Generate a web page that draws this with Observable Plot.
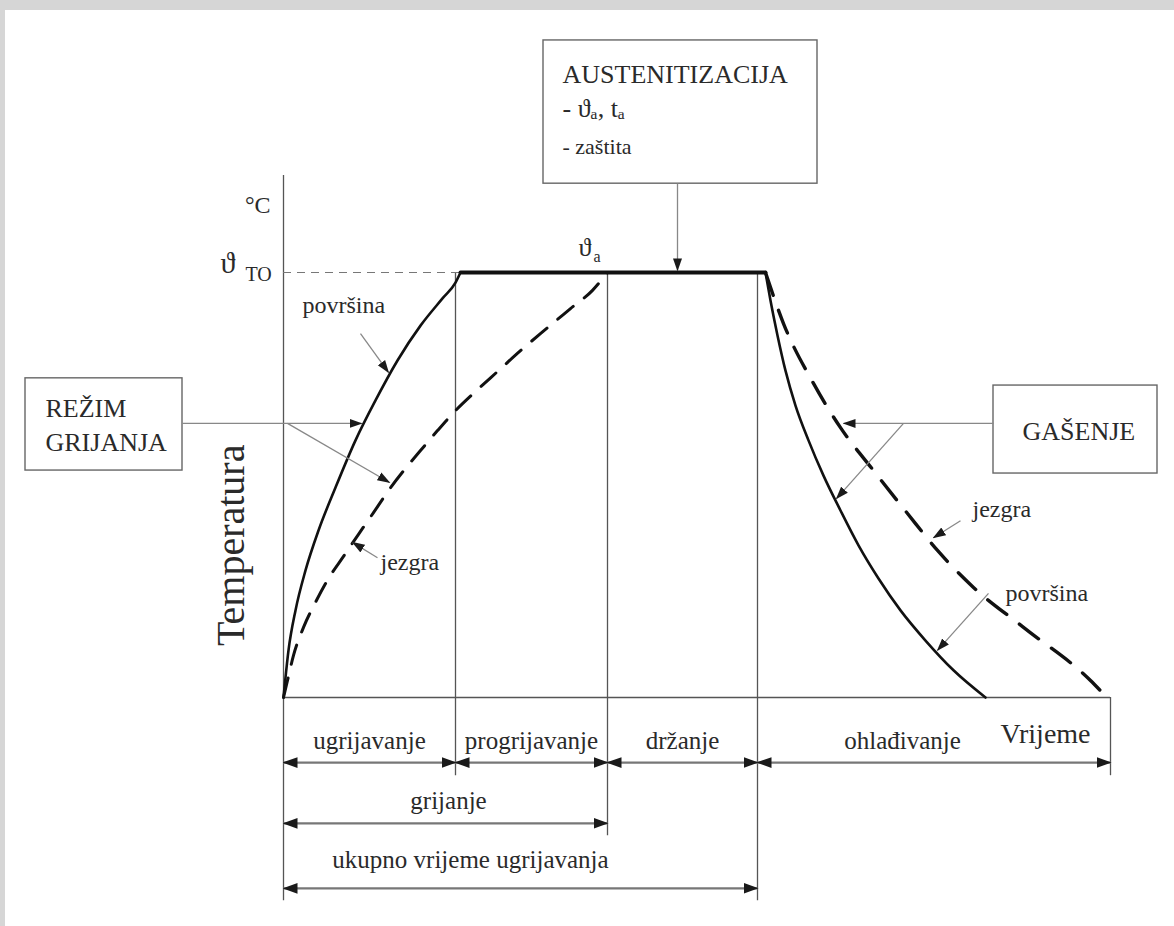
<!DOCTYPE html>
<html><head><meta charset="utf-8">
<script src="https://cdn.jsdelivr.net/npm/d3@7"></script>
<script src="https://cdn.jsdelivr.net/npm/@observablehq/plot@0.6"></script>
<style>
html,body{margin:0;padding:0;background:#fff;}
#wrap{position:relative;width:1174px;height:926px;overflow:hidden;background:#fff;}
#chart{position:absolute;left:0;top:0;}
#edgeTop{position:absolute;left:0;top:0;width:1174px;height:10px;background:#d6d6d6;}
#edgeLeft{position:absolute;left:0;top:0;width:5px;height:926px;background:#d6d6d6;}
</style></head>
<body><div id="wrap"><div id="chart"></div><div id="edgeTop"></div><div id="edgeLeft"></div></div>
<script>
// ---- data (time t in arbitrary units, temperature T in % of ϑTO) ----
const surfaceHeatTime = [0, 0.5, 1.2, 2.2, 3.5, 5.2, 7.2, 9.2, 11.4, 13.7, 15.9, 17.2, 17.7];
const surfaceHeatTemp = [0, 11.1, 20.5, 29.9, 39.3, 49.4, 60.5, 69.9, 79.3, 87.5, 93.9, 97.6, 100];
const plateauTime = [17.7, 48.2];
const plateauTemp = [100, 100];
const surfaceCoolTime = [48.2, 48.7, 49.4, 50.2, 51.2, 52.5, 54.0, 55.7, 57.5, 59.5, 61.7, 64.2, 67.0, 70.2];
const surfaceCoolTemp = [100, 93.4, 85.2, 76.9, 68.7, 60.5, 52.2, 44.0, 35.8, 28.0, 20.5, 13.4, 6.4, 0];
const coreHeatTime = [0, 0.4, 1.0, 2.0, 3.2, 4.5, 6.0, 7.5, 9.0, 10.5, 12.2, 13.7, 15.4, 17.2, 19.2, 21.4, 23.7, 26.2, 28.7, 30.9, 32.4];
const coreHeatTemp = [0, 4.0, 9.9, 16.5, 22.4, 28.0, 33.2, 38.4, 43.5, 48.7, 53.9, 58.1, 62.8, 67.5, 72.0, 76.7, 81.6, 86.6, 91.5, 95.8, 100];
const coreCoolTime = [48.2, 50.0, 53.0, 55.7, 59.0, 62.4, 65.4, 69.0, 74.0, 80.7, 81.7];
const coreCoolTemp = [100, 88.0, 73.9, 63.5, 53.4, 43.3, 34.6, 25.9, 16.5, 4.0, 1.6];

const phaseNames = ["ugrijavanje", "progrijavanje", "držanje", "ohlađivanje"];
const phaseStart = [0, 17.2, 32.4, 47.4];
const phaseEnd = [17.2, 32.4, 47.4, 82.7];
const phaseLabelTime = [8.6, 24.8, 39.9, 61.9];
const spanNames = ["grijanje", "ukupno vrijeme ugrijavanja"];
const spanStart = [0, 0];
const spanEnd = [32.4, 47.4];
const spanLabelTime = [16.5, 18.7];
const spanLabelTemp = [-26.3, -40.0];

const guideTime = [0, 17.2, 32.4, 47.4, 82.7];
const guideTop = [122.8, 100, 100, 100, 0];
const guideBottom = [-47.8, -18.4, -32.5, -47.8, -18.4];

const boxNames = ["AUSTENITIZACIJA", "REŽIM GRIJANJA", "GAŠENJE"];
const boxTime1 = [26.0, -25.8, 71.0];
const boxTime2 = [53.4, -10.1, 87.4];
const boxTemp1 = [120.9, 53.4, 52.7];
const boxTemp2 = [154.6, 75.1, 73.4];

const pointerStartTime = [39.4, 7.7, -10.1, 0.4, 9.4, 71.0, 62.0, 67.7, 70.5];
const pointerStartTemp = [120.9, 85.6, 64.5, 64.5, 32.9, 64.5, 64.5, 41.6, 24.5];
const pointerEndTime = [39.4, 10.5, 7.8, 10.6, 6.9, 56.0, 55.3, 65.0, 65.4];
const pointerEndTemp = [100.5, 76.5, 64.5, 50.6, 36.5, 64.5, 46.8, 37.6, 11.1];

const boxLabels = ["AUSTENITIZACIJA", "- ϑₐ, tₐ", "REŽIM", "GRIJANJA", "GAŠENJE"];
const boxLabelTime = [27.9, 27.9, -23.8, -23.8, 73.9];
const boxLabelTemp = [144.7, 136.5, 65.9, 57.9, 60.5];
const smallBoxLabels = ["- zaštita"];
const smallBoxLabelTime = [27.9];
const smallBoxLabelTemp = [127.8];
const curveLabels = ["površina", "jezgra", "jezgra", "površina"];
const curveLabelTime = [1.9, 9.7, 68.9, 72.2];
const curveLabelTemp = [90.4, 29.9, 42.4, 22.8];
const phaseLabelTemp = -12.2;
const phaseArrowTemp = -15.3;
const spanArrowTemp = [-29.6, -44.9];

// ---- helpers ----
const idx = (a) => a.map((_, i) => i);
const FONT = "Liberation Serif, Times New Roman, serif";
const INK = "#2a2a2a";
function headMaker(orient, w, h) {
  return (color, context) => d3.create("svg:marker")
    .attr("viewBox", `${-w} ${-h / 2} ${w + 1} ${h}`)
    .attr("markerUnits", "userSpaceOnUse")
    .attr("markerWidth", w + 1).attr("markerHeight", h)
    .attr("orient", orient)
    .attr("fill", "#1a1a1a").attr("stroke", "none")
    .call(m => m.append("path").attr("d", `M${-w},${-h * 0.45}L1,0L${-w},${h * 0.45}Z`))
    .node();
}

function build(headEnd, headStart, bigEnd, bigStart) {
  return Plot.plot({
    width: 1174, height: 926, margin: 0,
    x: {domain: [-28.3, 89.1], axis: null},
    y: {domain: [-53.88, 164], axis: null},
    style: {background: "transparent"},
    marks: [
      // guides / axes
      Plot.ruleX(idx(guideTime), {x: i => guideTime[i], y1: i => guideBottom[i], y2: i => guideTop[i], stroke: "#555", strokeWidth: 1.3}),
      Plot.ruleY([0], {x1: 0, x2: 82.7, stroke: "#555", strokeWidth: 1.3}),
      Plot.ruleY([100], {x1: 0, x2: 17.7, stroke: "#777", strokeWidth: 1.2, strokeDasharray: "8,6"}),
      // boxes
      Plot.rect(idx(boxNames), {x1: i => boxTime1[i], x2: i => boxTime2[i], y1: i => boxTemp1[i], y2: i => boxTemp2[i], fill: "white", stroke: "#666", strokeWidth: 1.4}),
      // curves
      Plot.line(idx(surfaceHeatTime), {x: i => surfaceHeatTime[i], y: i => surfaceHeatTemp[i], curve: "monotone-x", stroke: "#111", strokeWidth: 2.6}),
      Plot.line(idx(plateauTime), {x: i => plateauTime[i], y: i => plateauTemp[i], stroke: "#111", strokeWidth: 4}),
      Plot.line(idx(surfaceCoolTime), {x: i => surfaceCoolTime[i], y: i => surfaceCoolTemp[i], curve: "monotone-x", stroke: "#111", strokeWidth: 2.6}),
      Plot.line(idx(coreHeatTime), {x: i => coreHeatTime[i], y: i => coreHeatTemp[i], curve: "monotone-x", stroke: "#111", strokeWidth: 3, strokeDasharray: "20,14"}),
      Plot.line(idx(coreCoolTime), {x: i => coreCoolTime[i], y: i => coreCoolTemp[i], curve: "monotone-x", stroke: "#111", strokeWidth: 3.4, strokeDasharray: "24,16"}),
      // pointer arrows
      Plot.link(idx(pointerStartTime), {x1: i => pointerStartTime[i], y1: i => pointerStartTemp[i], x2: i => pointerEndTime[i], y2: i => pointerEndTemp[i], stroke: "#888", strokeWidth: 1.3, markerEnd: headEnd}),
      // interval arrows
      Plot.link(idx(phaseNames), {x1: i => phaseStart[i], x2: i => phaseEnd[i], y1: phaseArrowTemp, y2: phaseArrowTemp, stroke: "#777", strokeWidth: 2.2, markerStart: bigStart, markerEnd: bigEnd}),
      Plot.link(idx(spanNames), {x1: i => spanStart[i], x2: i => spanEnd[i], y1: i => spanArrowTemp[i], y2: i => spanArrowTemp[i], stroke: "#777", strokeWidth: 2.2, markerStart: bigStart, markerEnd: bigEnd}),
      // texts
      Plot.text(idx(boxLabels), {x: i => boxLabelTime[i], y: i => boxLabelTemp[i], text: i => boxLabels[i], textAnchor: "start", lineAnchor: "bottom", fontSize: 26, fontFamily: FONT, fill: INK}),
      Plot.text(idx(smallBoxLabels), {x: i => smallBoxLabelTime[i], y: i => smallBoxLabelTemp[i], text: i => smallBoxLabels[i], textAnchor: "start", lineAnchor: "bottom", fontSize: 22, fontFamily: FONT, fill: INK}),
      Plot.text(idx(curveLabels), {x: i => curveLabelTime[i], y: i => curveLabelTemp[i], text: i => curveLabels[i], textAnchor: "start", lineAnchor: "bottom", fontSize: 24, fontFamily: FONT, fill: INK}),
      Plot.text(idx(phaseNames), {x: i => phaseLabelTime[i], y: phaseLabelTemp, text: i => phaseNames[i], textAnchor: "middle", lineAnchor: "bottom", fontSize: 25, fontFamily: FONT, fill: INK}),
      Plot.text(idx(spanNames), {x: i => spanLabelTime[i], y: i => spanLabelTemp[i], text: i => spanNames[i], textAnchor: "middle", lineAnchor: "bottom", fontSize: 25, fontFamily: FONT, fill: INK}),
      Plot.text(["Vrijeme"], {x: 76.2, y: -10.6, textAnchor: "middle", lineAnchor: "bottom", fontSize: 28, fontFamily: FONT, fill: INK}),
      Plot.text(["Temperatura"], {x: -5.2, y: 35.8, rotate: -90, textAnchor: "middle", lineAnchor: "middle", fontSize: 40, fontFamily: FONT, fill: INK}),
      Plot.text(["°C"], {x: -1.3, y: 114.1, textAnchor: "end", lineAnchor: "bottom", fontSize: 24, fontFamily: FONT, fill: INK}),
      Plot.text(["ϑ"], {x: -6.3, y: 100.0, textAnchor: "start", lineAnchor: "bottom", fontSize: 30, fontFamily: FONT, fill: INK}),
      Plot.text(["TO"], {x: -3.8, y: 98.1, textAnchor: "start", lineAnchor: "bottom", fontSize: 20, fontFamily: FONT, fill: INK}),
      Plot.text(["ϑ"], {x: 29.5, y: 104.0, textAnchor: "start", lineAnchor: "bottom", fontSize: 26, fontFamily: FONT, fill: INK}),
      Plot.text(["a"], {x: 31.0, y: 102.4, textAnchor: "start", lineAnchor: "bottom", fontSize: 16, fontFamily: FONT, fill: INK})
    ]
  });
}

let chart;
try {
  chart = build(headMaker("auto", 12, 10), headMaker("auto-start-reverse", 12, 10), headMaker("auto", 14, 12), headMaker("auto-start-reverse", 14, 12));
} catch (e) {
  chart = build("arrow", "arrow-reverse", "arrow", "arrow-reverse");
}
document.getElementById("chart").appendChild(chart);
</script>
</body></html>
